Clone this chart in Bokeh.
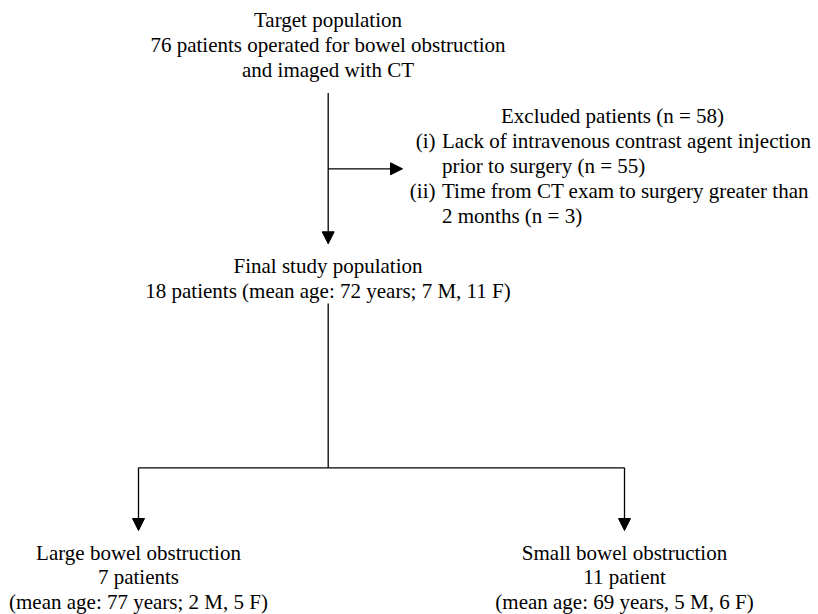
from bokeh.plotting import figure
from bokeh.models import Range1d, Arrow, NormalHead, ColumnDataSource
from bokeh.core.properties import value
from bokeh.embed import file_html
from bokeh.resources import INLINE

# ---- content ----
top_lines = ["Target population",
             "76 patients operated for bowel obstruction",
             "and imaged with CT"]
excluded_title = ["Excluded patients (n = 58)"]
excl_labels = ["(i)", "(ii)"]
excl_lines = ["Lack of intravenous contrast agent injection",
              "prior to surgery (n = 55)",
              "Time from CT exam to surgery greater than",
              "2 months (n = 3)"]
final_lines = ["Final study population",
               "18 patients (mean age: 72 years; 7 M, 11 F)"]
large_lines = ["Large bowel obstruction",
               "7 patients",
               "(mean age: 77 years; 2 M, 5 F)"]
small_lines = ["Small bowel obstruction",
               "11 patient",
               "(mean age: 69 years, 5 M, 6 F)"]

FONT = value("Liberation Serif")
FS = "21px"
LH = 25
DY = -7.5   # compensates the renderer's baseline offset

p = figure(width=818, height=614, x_range=Range1d(0, 818), y_range=Range1d(614, 0),
           output_backend="svg", toolbar_location=None, min_border=0)
p.axis.visible = False
p.grid.visible = False
p.outline_line_color = None


def block(lines, x, y0, align="center", lh=LH, fs=FS):
    src = ColumnDataSource(dict(x=[x] * len(lines),
                                y=[y0 + DY + i * lh for i in range(len(lines))],
                                t=lines))
    p.text(x="x", y="y", text="t", source=src, text_font=FONT, text_font_size=fs,
           text_align=align, text_baseline="alphabetic", text_color="black")


block(top_lines, 327.5, 27.3)
block(excluded_title, 612, 122.7)
block(excl_labels, 435, 147.7, align="right", lh=2 * LH)
block(excl_lines, 441.5, 147.7, align="left")
block(final_lines, 327.5, 273.3)
block(large_lines, 138, 559.5, lh=24.5)
block(small_lines, 624, 559.5, lh=24.5)

LW = 1.3


def arrow(x0, y0, x1, y1):
    p.add_layout(Arrow(end=NormalHead(size=12, fill_color="black", line_color="black", line_width=1),
                       x_start=x0, y_start=y0, x_end=x1, y_end=y1,
                       line_color="black", line_width=LW))


cx = 327.7
arrow(cx, 92.5, cx, 243.3)
arrow(cx, 168.3, 402, 168.3)
p.segment(x0=[cx, 138], y0=[303, 467.3], x1=[cx, 624], y1=[467.3, 467.3],
          line_color="black", line_width=LW)
arrow(138, 467.3, 138, 530)
arrow(624, 467.3, 624, 530)

open("out.html", "w").write(file_html(p, INLINE))
